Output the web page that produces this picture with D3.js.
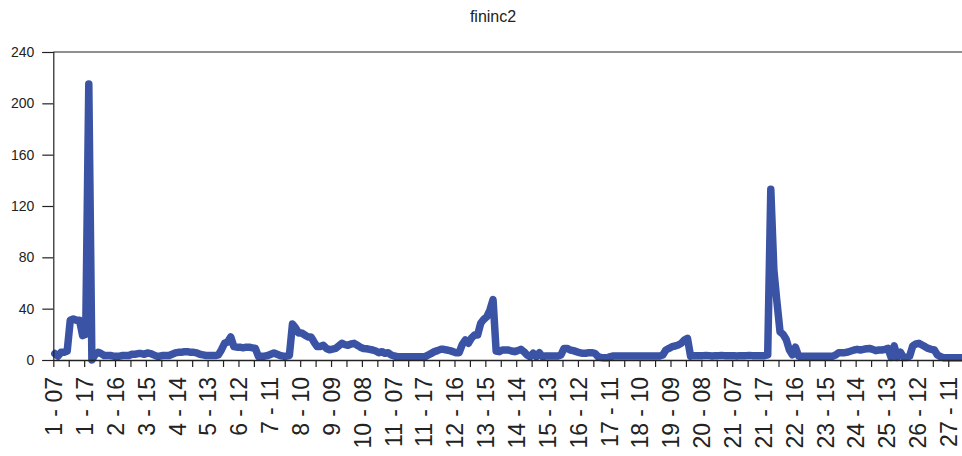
<!DOCTYPE html>
<html>
<head>
<meta charset="utf-8">
<script src="https://cdn.jsdelivr.net/npm/d3@7/dist/d3.min.js"></script>
<style>
  html, body { margin: 0; padding: 0; background: #fff; }
  svg { display: block; }
  text { font-family: "Liberation Sans", Arial, Helvetica, sans-serif; fill: #222; }
</style>
</head>
<body>
<svg id="chart" width="962" height="456"></svg>
<script>
// ---- data (11 hourly readings per day, 07..17) ----
const title = "fininc2";
const values = [
  5,3,6,6,7,31,32,31,31,19,20,
  215,0,4,6,5,3.5,3.5,3.5,3,3,3,
  3.5,3.5,3.5,4.5,4.5,5,5,4.5,5.5,5,4,
  3,3,3.5,3.5,3.5,4.5,5.5,6,6,6.5,6.5,
  6,6,5.5,4.5,4,3.5,3.5,3.5,3.5,4,8,
  13,14,18,10.5,10,10,9.5,10,10,9.5,9,
  2.5,3,3,3.5,4.5,5.5,4.5,3.5,3,3,3.5,
  28,25,21,21,19.5,18,18,14,10.5,10.5,11.5,
  9,8,8.5,9,11,13,12,11.5,12.5,13,11.5,
  10,9,8.8,8.3,7.8,7,5.7,6.5,5.2,5.7,3.9,
  3.1,2.6,2.6,2.6,2.6,2.6,2.6,2.6,2.6,2.6,2.6,
  3.9,5.2,6.5,7.3,8.3,8.3,7.8,7.3,6.5,5.7,5.7,
  12,15.6,13,17,19.5,19.5,28.6,31.7,33.8,39,47,
  7,6.5,7.8,7.8,7.8,7,6.5,7.3,8.3,6.5,3.9,
  2.6,5.2,2.6,5.7,2.6,3.1,3.1,3.1,3.1,3.1,3.9,
  9,9,7.8,7.3,6.5,5.7,5.2,5.2,5.7,5.7,5.2,
  2.6,2,1.8,1.8,2.6,3.1,3.1,3.1,3.1,3.1,3.1,
  3.1,3.1,3.1,3.1,3.1,3.1,3.1,3.1,3.1,3.1,3.9,
  7.8,9,10.4,10.9,11.7,13,15.6,16.9,3,3.4,3.4,
  3.4,3.4,3.6,3.4,3.2,3.4,3.4,3.6,3.4,3.4,3.4,
  3.4,3.2,3.4,3.4,3.4,3.6,3.4,3.4,3.4,3.4,3.4,
  4,133,70,45,22,20,16,8,4,10,3,
  3,3,3,3,3,3,3,3,3,3,3,
  3.9,5.7,5.7,5.7,6.2,7,7.8,8.3,7.8,8.3,8.8,
  9,8.3,7.3,7.8,7.8,8.3,9,2,11,2,6,
  2,2,3,11,12.5,13,11.7,10.4,9,8.3,7.8,
  3.9,2.6,1.8,1.8,1.8,1.8,1.8,1.8,1.8,1.8,1.8
];
const tickLabels = [
  "1 - 07","1 - 17","2 - 16","3 - 15","4 - 14","5 - 13","6 - 12","7 - 11",
  "8 - 10","9 - 09","10 - 08","11 - 07","11 - 17","12 - 16","13 - 15",
  "14 - 14","15 - 13","16 - 12","17 - 11","18 - 10","19 - 09","20 - 08",
  "21 - 07","21 - 17","22 - 16","23 - 15","24 - 14","25 - 13","26 - 12","27 - 11"
];
const yTicks = [0, 40, 80, 120, 160, 200, 240];

// ---- layout ----
const plotLeft = 53.3, plotTop = 52, plotBottom = 360, step = 3.086;
const svg = d3.select("#chart");

const x = d3.scaleLinear().domain([0, values.length]).range([plotLeft, plotLeft + values.length * step]);
const y = d3.scaleLinear().domain([0, 240]).range([plotBottom, plotTop]);

// title
svg.append("text")
  .attr("x", 493).attr("y", 22)
  .attr("text-anchor", "middle")
  .style("font-size", "16px")
  .text(title);

// line
const line = d3.line()
  .x((d, i) => x(i + 0.5))
  .y(d => y(d));

svg.append("path")
  .datum(values)
  .attr("fill", "none")
  .attr("stroke", "#3a53a5")
  .attr("stroke-width", 7.5)
  .attr("stroke-linejoin", "round")
  .attr("stroke-linecap", "round")
  .attr("d", line);

// top frame line
svg.append("line")
  .attr("x1", x(0)).attr("x2", x(values.length) + 10)
  .attr("y1", y(240)).attr("y2", y(240))
  .attr("stroke", "#222").attr("stroke-width", 1.2);

// y axis
const yAxis = svg.append("g")
  .attr("transform", `translate(${plotLeft},0)`)
  .call(d3.axisLeft(y).tickValues(yTicks).tickSize(11).tickPadding(8).tickFormat(d3.format("d")));
yAxis.select(".domain").attr("stroke", "#222").attr("stroke-width", 1.2);
yAxis.selectAll(".tick line").attr("stroke", "#222").attr("stroke-width", 1.2);
yAxis.selectAll("text").style("font-size", "14px").style("font-family", "'Liberation Sans', Arial, sans-serif").attr("fill", "#222");

// x axis
const xTickVals = d3.range(0, values.length, 5);
const xAxis = svg.append("g")
  .attr("transform", `translate(0,${plotBottom})`)
  .call(d3.axisBottom(x).tickValues(xTickVals).tickSize(7).tickSizeOuter(0)
    .tickFormat(i => (i % 10 === 0 && tickLabels[i / 10] !== undefined) ? tickLabels[i / 10] : ""));
xAxis.select(".domain").attr("stroke", "#222").attr("stroke-width", 1.4);
xAxis.selectAll(".tick line").attr("stroke", "#222").attr("stroke-width", 1.2);
xAxis.selectAll("text")
  .style("font-size", "23px")
  .style("font-family", "'Liberation Sans', Arial, sans-serif")
  .attr("fill", "#222")
  .attr("text-anchor", "end")
  .attr("transform", "rotate(-90)")
  .attr("x", -17)
  .attr("y", 0)
  .attr("dy", "0.36em");
</script>
</body>
</html>
